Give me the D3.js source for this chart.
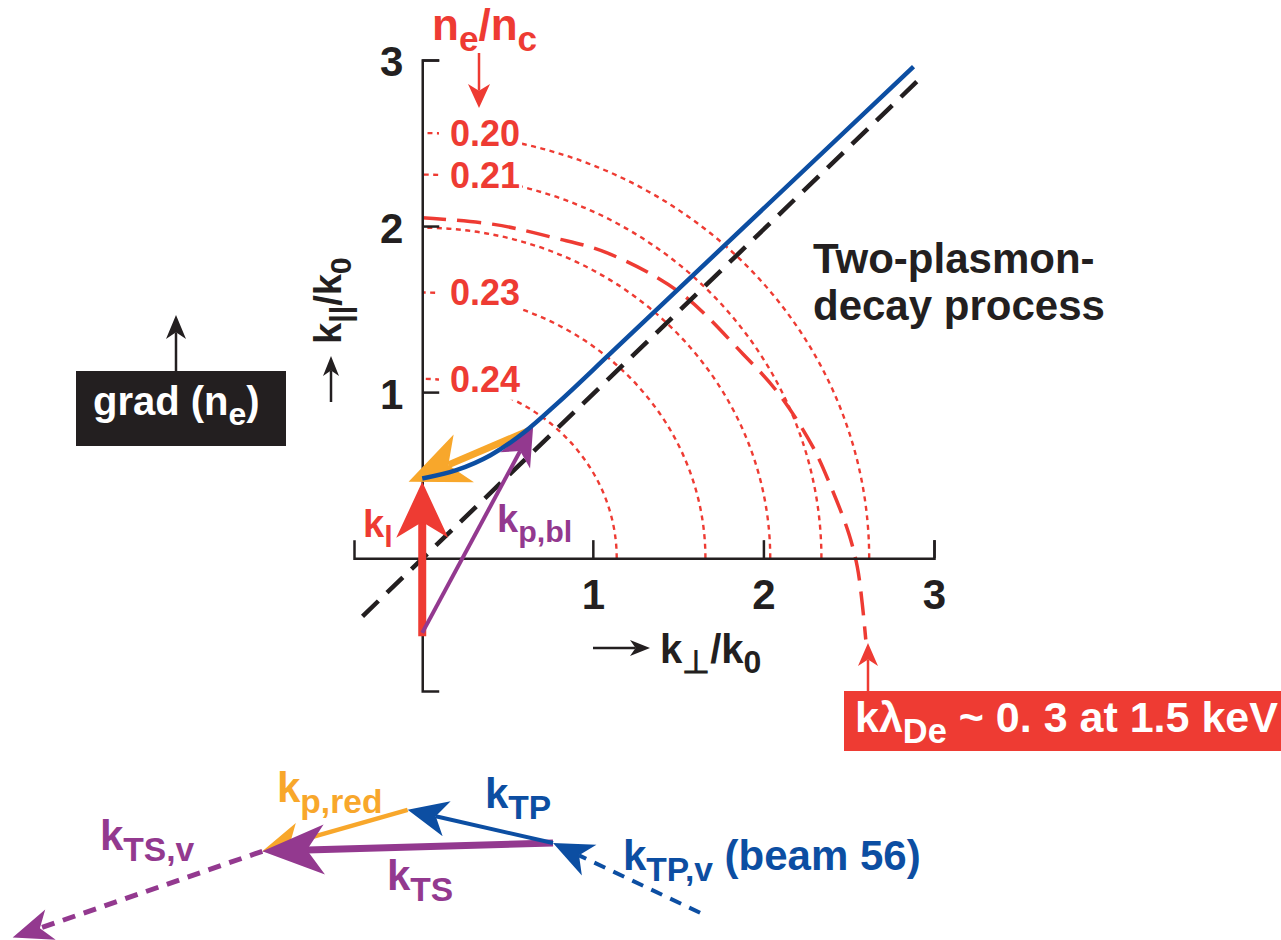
<!DOCTYPE html>
<html>
<head>
<meta charset="utf-8">
<script src="https://cdn.jsdelivr.net/npm/d3@7"></script>
<style>
body { margin: 0; background: #fff; }
text { font-family: "Liberation Sans", Arial, Helvetica, sans-serif; font-weight: bold; }
</style>
</head>
<body>
<div id="cont"></div>
<script>
// ---- data (k / k0 units) ----
var xTicks = [1, 2, 3];
var yTicks = [1, 2, 3];

// n_e/n_c contours: intercepts on k_perp and k_par axes
var densityLabels = ["0.20", "0.21", "0.22", "0.23", "0.24"];
var perpIntercepts = [2.62, 2.34, 2.04, 1.66, 1.14];
var parIntercepts = [2.56, 2.31, 1.99, 1.60, 1.08];
var labelShown = [true, true, false, true, true];

// k lambda_De ~ 0.3 boundary
var debyeCurve = [[0, 2.05], [0.42, 2.01], [0.77, 1.93], [1.08, 1.84], [1.51, 1.60],
  [1.88, 1.23], [2.09, 0.99], [2.29, 0.67], [2.40, 0.42], [2.50, 0.15], [2.55, -0.05],
  [2.58, -0.28], [2.60, -0.49]];

// TPD maximum growth curve
var tpdCurve = [[0, 0.48], [0.20, 0.53], [0.40, 0.62], [0.60, 0.76], [0.80, 0.94],
  [1.10, 1.23], [2.88, 2.96]];

// k_par = k_perp line
var diagLine = [[-0.35, -0.35], [2.93, 2.90]];

// wave vectors in the main chart
var kLaser = [[0, -0.47], [0, 0.46]];
var kPlasmonBlue = [[0, -0.45], [0.65, 0.79]];
var kPlasmonRed = [[0.63, 0.77], [-0.08, 0.46]];

// vector diagram below (k0 units, origin at beam-56 tail)
var kTPv = [[0.86, -0.42], [0, 0]];
var kTP = [[0, 0], [-0.85, 0.20]];
var kpRed = [[-0.85, 0.20], [-1.70, -0.05]];
var kTS = [[0, 0], [-1.70, -0.05]];
var kTSv = [[-1.70, -0.05], [-3.16, -0.57]];

// colours
var RED = "#EE3B33", ORANGE = "#F8A72B", PURPLE = "#93398F", BLUE = "#0C4EA2", INK = "#231F20";

var svg = d3.select("#cont").append("svg")
    .attr("width", 1281)
    .attr("height", 940);

var x = d3.scaleLinear().domain([-0.4, 3]).range([354, 934]);
var y = d3.scaleLinear().domain([-0.8, 3]).range([691, 60]);

var bx = d3.scaleLinear().domain([0, 1]).range([553, 724]);
var by = d3.scaleLinear().domain([0, 1]).range([843, 677]);

var line = d3.line().x(function(d) { return x(d[0]); }).y(function(d) { return y(d[1]); });

// arrow with notched head
function drawArrow(g, p0, p1, o) {
    var dx = p1[0] - p0[0], dy = p1[1] - p0[1];
    var len = Math.sqrt(dx * dx + dy * dy);
    var ux = dx / len, uy = dy / len, px = -uy, py = ux;
    var L = o.head, W = o.half, n = o.notch || 0.72;
    g.append("line")
        .attr("x1", p0[0]).attr("y1", p0[1])
        .attr("x2", p1[0] - ux * L * n).attr("y2", p1[1] - uy * L * n)
        .attr("stroke", o.color).attr("stroke-width", o.width)
        .attr("stroke-dasharray", o.dash || null);
    var p = d3.path();
    p.moveTo(p1[0], p1[1]);
    p.lineTo(p1[0] - ux * L + px * W, p1[1] - uy * L + py * W);
    p.lineTo(p1[0] - ux * L * n, p1[1] - uy * L * n);
    p.lineTo(p1[0] - ux * L - px * W, p1[1] - uy * L - py * W);
    p.closePath();
    g.append("path").attr("d", p.toString()).attr("fill", o.color);
}

// text with subscripts: parts = [[str, isSub], ...]
function richText(g, tx, ty, parts, size, color, sub) {
    sub = sub || 0.78;
    var t = g.append("text").attr("x", tx).attr("y", ty).attr("fill", color).attr("font-size", size);
    var shift = Math.round(size * 0.26), prevSub = false;
    parts.forEach(function(p) {
        var s = t.append("tspan").text(p[0]);
        if (p[1]) {
            s.attr("font-size", size * sub);
            if (!prevSub) s.attr("dy", shift);
        } else {
            if (prevSub) s.attr("dy", -shift);
        }
        prevSub = p[1];
    });
    return t;
}

// ---- density contours ----
var contours = svg.append("g");
densityLabels.forEach(function(lab, i) {
    var rx = x(perpIntercepts[i]) - x(0), ry = y(0) - y(parIntercepts[i]);
    contours.append("path")
        .attr("d", "M" + x(perpIntercepts[i]) + "," + y(0) + " A" + rx + "," + ry + " 0 0 0 " + x(0) + "," + y(parIntercepts[i]))
        .attr("fill", "none").attr("stroke", RED).attr("stroke-width", 2.4)
        .attr("stroke-dasharray", "5,4.5");
});

svg.append("path")
    .datum(debyeCurve)
    .attr("d", line.curve(d3.curveCatmullRom))
    .attr("fill", "none").attr("stroke", RED).attr("stroke-width", 3.5)
    .attr("stroke-dasharray", "24,11");

densityLabels.forEach(function(lab, i) {
    if (!labelShown[i]) return;
    var t = contours.append("text")
        .attr("x", 450).attr("y", y(parIntercepts[i]) + 13)
        .attr("font-size", 36).attr("fill", RED).text(lab);
    var b = t.node().getBBox();
    contours.insert("rect", "text")
        .attr("x", b.x - 11).attr("y", b.y).attr("width", b.width + 13).attr("height", b.height)
        .attr("fill", "#fff");
});

// ---- axes ----
var xAxis = d3.axisBottom(x).tickValues(xTicks)
    .tickSizeInner(-18).tickSizeOuter(-18).tickPadding(21).tickFormat(d3.format("d"));
var gx = svg.append("g").attr("transform", "translate(0," + y(0) + ")").call(xAxis)
    .attr("color", INK).attr("font-size", null).attr("font-family", null);
gx.selectAll("path, line").attr("stroke-width", 2.5);
gx.selectAll("text").attr("font-size", 42);

var yAxis = d3.axisLeft(y).tickValues(yTicks)
    .tickSizeInner(-17).tickSizeOuter(-17).tickPadding(19).tickFormat(d3.format("d"));
var gy = svg.append("g").attr("transform", "translate(" + x(0) + ",0)").call(yAxis)
    .attr("color", INK).attr("font-size", null).attr("font-family", null);
gy.selectAll("path, line").attr("stroke-width", 2.5);
gy.selectAll("text").attr("font-size", 42).attr("dy", "0.38em");

// axis titles
drawArrow(svg, [593, 648], [650, 648], {color: INK, width: 2.5, head: 20, half: 8});
richText(svg, 660, 663, [["k", false], ["\u22A5", true], ["/k", false], ["0", true]], 40, INK, 0.8);

drawArrow(svg, [331, 402], [331, 356], {color: INK, width: 2.5, head: 20, half: 8});
var yt = svg.append("g").attr("transform", "translate(341,344) rotate(-90)");
richText(yt, 0, 0, [["k", false], ["||", true], ["/k", false], ["0", true]], 38, INK, 0.8);

// ---- lines ----
svg.append("path")
    .datum(diagLine)
    .attr("d", line.curve(d3.curveLinear))
    .attr("fill", "none").attr("stroke", INK).attr("stroke-width", 4.5)
    .attr("stroke-dasharray", "22,12");

// ---- wave vectors ----
function pt(d) { return [x(d[0]), y(d[1])]; }
drawArrow(svg, pt(kLaser[0]), pt(kLaser[1]), {color: RED, width: 8, head: 56, half: 26});
drawArrow(svg, pt(kPlasmonRed[0]), pt(kPlasmonRed[1]), {color: ORANGE, width: 7, head: 60, half: 26});
drawArrow(svg, pt(kPlasmonBlue[0]), pt(kPlasmonBlue[1]), {color: PURPLE, width: 4, head: 38, half: 17});

svg.append("path")
    .datum(tpdCurve)
    .attr("d", line.curve(d3.curveMonotoneX))
    .attr("fill", "none").attr("stroke", BLUE).attr("stroke-width", 4.5);

richText(svg, 363, 537, [["k", false], ["l", true]], 38, RED, 0.8);
richText(svg, 497, 532, [["k", false], ["p,bl", true]], 38, PURPLE, 0.8);

// n_e/n_c header
richText(svg, 432, 40, [["n", false], ["e", true], ["/n", false], ["c", true]], 44, RED, 0.8);
drawArrow(svg, [479, 53], [479, 108], {color: RED, width: 2.5, head: 24, half: 11});

// process label
svg.append("text").attr("x", 813).attr("y", 273).attr("font-size", 42).attr("fill", INK).text("Two-plasmon-");
svg.append("text").attr("x", 813).attr("y", 320).attr("font-size", 42).attr("fill", INK).text("decay process");

// grad(n_e) box
drawArrow(svg, [176, 371], [176, 315], {color: INK, width: 2.5, head: 24, half: 10});
svg.append("rect").attr("x", 76).attr("y", 371).attr("width", 210).attr("height", 75).attr("fill", INK);
richText(svg, 93, 415, [["grad (n", false], ["e", true], [")", false]], 40, "#fff", 0.8);

// k lambda_De box
drawArrow(svg, [868, 691], [868, 643], {color: RED, width: 2.5, head: 23, half: 10});
svg.append("rect").attr("x", 844).attr("y", 691).attr("width", 437).attr("height", 60).attr("fill", RED);
richText(svg, 855, 732, [["k\u03BB", false], ["De", true], [" ~ 0. 3 at 1.5 keV", false]], 43, "#fff", 0.8);

// ---- vector diagram ----
function bp(d) { return [bx(d[0]), by(d[1])]; }
drawArrow(svg, bp(kTPv[0]), bp(kTPv[1]), {color: BLUE, width: 4, head: 40, half: 17, dash: "12,9"});
drawArrow(svg, bp(kpRed[0]), bp(kpRed[1]), {color: ORANGE, width: 4.5, head: 40, half: 18});
drawArrow(svg, bp(kTS[0]), bp(kTS[1]), {color: PURPLE, width: 7, head: 62, half: 25});
drawArrow(svg, bp(kTP[0]), bp(kTP[1]), {color: BLUE, width: 4, head: 40, half: 18});
drawArrow(svg, bp(kTSv[0]), bp(kTSv[1]), {color: PURPLE, width: 5, head: 40, half: 16, dash: "13,9"});

richText(svg, 277, 802, [["k", false], ["p,red", true]], 42, ORANGE, 0.8);
richText(svg, 100, 850, [["k", false], ["TS,v", true]], 42, PURPLE, 0.8);
richText(svg, 387, 890, [["k", false], ["TS", true]], 42, PURPLE, 0.8);
richText(svg, 485, 808, [["k", false], ["TP", true]], 42, BLUE, 0.8);
richText(svg, 623, 870, [["k", false], ["TP,v", true], [" (beam 56)", false]], 42, BLUE, 0.8);
</script>
</body>
</html>
